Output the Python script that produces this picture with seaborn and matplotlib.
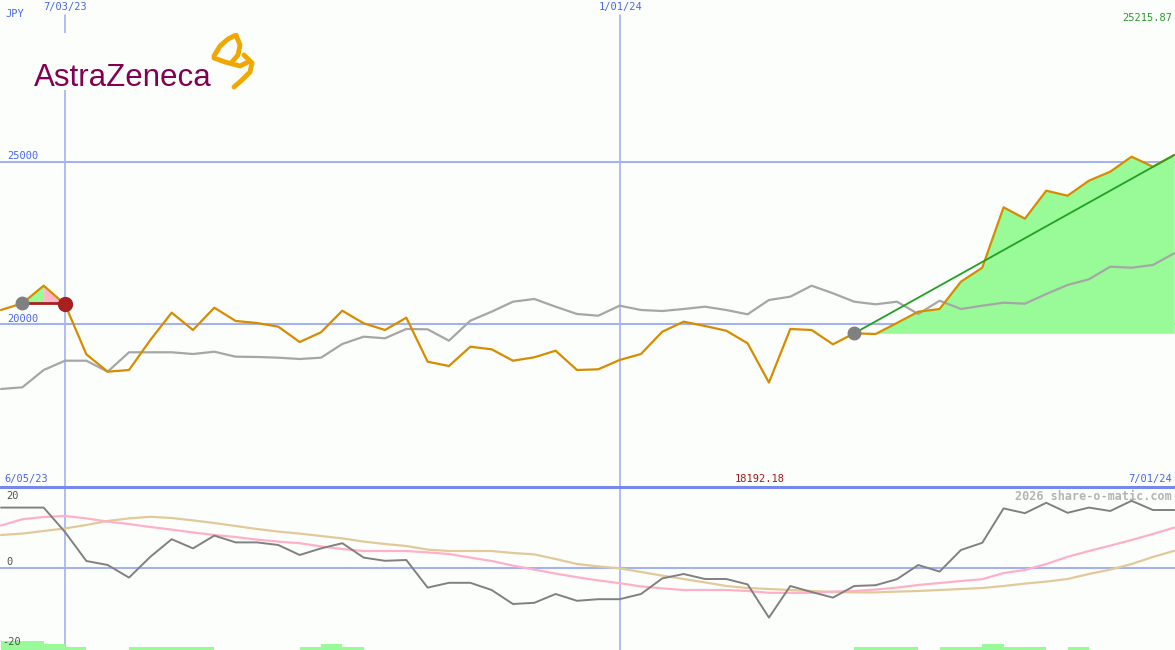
import numpy as np
import pandas as pd
import matplotlib.pyplot as plt
import seaborn as sns

# --- data (weekly) ---
dates = pd.date_range('2023-06-12', periods=56, freq='7D')

price = [20432, 20639, 21182, 20608, 19065, 18528, 18580, 19506, 20349, 19815,
         20503, 20093, 20031, 19917, 19444, 19744, 20410, 20022, 19815, 20194,
         18836, 18704, 19299, 19219, 18867, 18972, 19176, 18580, 18602, 18889,
         19074, 19762, 20071, 19938, 19793, 19404, 18192.18, 19846, 19815, 19373,
         19713, 19691, 20031, 20380, 20463, 21306, 21738, 23602, 23250, 24114,
         23960, 24423, 24701, 25164, 24855, 25215.87]

bench = [17994, 18046, 18580, 18867, 18867, 18528, 19127, 19127, 19127, 19074,
         19145, 18991, 18982, 18960, 18920, 18960, 19383, 19608, 19559, 19846,
         19836, 19485, 20102, 20380, 20688, 20772, 20534, 20309, 20256, 20565,
         20432, 20401, 20463, 20534, 20432, 20299, 20741, 20843, 21182, 20948,
         20688, 20608, 20688, 20309, 20719, 20463, 20565, 20657, 20627, 20926,
         21204, 21380, 21769, 21738, 21821, 22182]

momentum = [15.1, 15.1, 15.1, 9.0, 1.75, 0.75, -2.4, 2.8, 7.2, 4.9,
            8.1, 6.4, 6.4, 5.75, 3.25, 4.9, 6.2, 2.6, 1.8, 2.0,
            -4.9, -3.7, -3.7, -5.5, -9.0, -8.7, -6.5, -8.2, -7.8, -7.8,
            -6.5, -2.6, -1.5, -2.75, -2.75, -4.1, -12.4, -4.5, -6.0, -7.4,
            -4.5, -4.3, -2.8, 0.75, -0.9, 4.5, 6.3, 14.9, 13.7, 16.3,
            13.8, 15.1, 14.25, 16.8, 14.5, 14.5]

avg_fast = [10.6, 12.2, 12.75, 13.0, 12.4, 11.6, 11.0, 10.25, 9.6, 8.9,
            8.25, 7.75, 7.1, 6.6, 6.2, 5.4, 4.75, 4.25, 4.25, 4.25,
            3.9, 3.5, 2.6, 1.75, 0.6, -0.4, -1.4, -2.3, -3.1, -3.8,
            -4.6, -5.1, -5.5, -5.5, -5.5, -5.75, -6.2, -6.2, -6.2, -5.9,
            -5.75, -5.4, -4.9, -4.25, -3.75, -3.25, -2.8, -1.25, -0.5, 1.0,
            2.8, 4.25, 5.6, 7.0, 8.5, 10.1]

avg_slow = [8.25, 8.6, 9.25, 9.9, 10.75, 11.75, 12.4, 12.8, 12.5, 11.9,
            11.25, 10.5, 9.75, 9.1, 8.6, 8.0, 7.4, 6.6, 6.0, 5.5,
            4.6, 4.25, 4.25, 4.25, 3.75, 3.4, 2.25, 1.0, 0.4, -0.1,
            -1.0, -1.9, -2.75, -3.6, -4.5, -5.0, -5.25, -5.5, -5.75, -6.0,
            -6.1, -6.1, -5.9, -5.75, -5.5, -5.25, -5.0, -4.5, -3.9, -3.4,
            -2.75, -1.5, -0.4, 1.0, 2.75, 4.3]

signal = [3, 3, 2, 1, 0, 0, 1, 1, 1, 1, 0, 0, 0, 0, 1, 2, 1, 0, 0, 0,
          0, 0, 0, 0, 0, 0, 0, 0, 0, 0, 0, 0, 0, 0, 0, 0, 0, 0, 0, 0,
          1, 1, 1, 0, 1, 1, 2, 1, 1, 0, 1, 0, 0, 0, 0, 0]

entry1, exit1 = 1, 3      # first trade (gray dot -> red dot)
entry2 = 40               # open trade (gray dot -> last)
marker_dates = ['2023-07-03', '2024-01-01']

df = pd.DataFrame({'date': dates, 'price': price, 'bench': bench,
                   'momentum': momentum, 'fast': avg_fast, 'slow': avg_slow,
                   'signal': signal})

# --- style ---
sns.set_style('white')
plt.rcParams['font.family'] = ['DejaVu Sans Mono', 'DejaVu Sans']
bg = '#fcfefc'
grid_c = '#a4b2f2'
blue_txt = '#4a66e6'

fig = plt.figure(figsize=(11.75, 6.5), dpi=100, facecolor=bg)
split = 163 / 650
ax1 = fig.add_axes([0, split, 1, 1 - split], facecolor=bg)
ax2 = fig.add_axes([0, 0, 1, split], facecolor=bg)
xlim = (dates[0] - pd.Timedelta(hours=8), dates[-1] + pd.Timedelta(hours=6))

# --- top panel ---
ax1.axhline(25000, color=grid_c, lw=1.5, zorder=1)
ax1.axhline(20000, color=grid_c, lw=1.5, zorder=1)
for d in marker_dates:
    ax1.axvline(pd.Timestamp(d), ymin=0, ymax=(487 - 15) / 487, color=grid_c, lw=1.2, zorder=1)

p = np.array(price)
base1 = p[entry1]
ax1.fill_between(dates[entry1:entry1 + 2], p[entry1:entry1 + 2], base1, color='#98fb98', lw=0, zorder=2)
ax1.fill_between(dates[entry1 + 1:exit1 + 1], p[entry1 + 1:exit1 + 1], base1, color='#ffb6c8', lw=0, zorder=2)
base2 = p[entry2]
ax1.fill_between(dates[entry2:entry2 + 2], p[entry2:entry2 + 2], base2, color='#ffb6c8', lw=0, zorder=2)
ax1.fill_between(dates[entry2 + 1:], p[entry2 + 1:], base2, color='#98fb98', lw=0, zorder=2)

sns.lineplot(data=df, x='date', y='bench', color='#a6a6a6', lw=1.6, ax=ax1, zorder=3)
sns.lineplot(data=df, x='date', y='price', color='#d68c00', lw=1.6, ax=ax1, zorder=4)

ax1.plot([dates[entry1], dates[exit1]], [base1, base1], color='#a82020', lw=2, zorder=5)
ax1.plot([dates[entry2], dates[-1]], [base2, p[-1]], color='#22a022', lw=1.3, zorder=5)
ax1.plot(dates[entry1], base1, 'o', color='#808080', ms=9, zorder=6)
ax1.plot(dates[entry2], base2, 'o', color='#808080', ms=9, zorder=6)
ax1.plot(dates[exit1], p[exit1], 'o', color='#a82020', ms=10, zorder=6)

ax1.set_xlim(xlim)
ax1.set_ylim(14969, 30000)

# --- bottom panel ---
ax2.axhline(0, color=grid_c, lw=1.5, zorder=1)
for d in marker_dates:
    ax2.axvline(pd.Timestamp(d), color=grid_c, lw=1.2, zorder=1)
ax2.bar(df['date'], df['signal'] * 0.75, bottom=-20.5, width=7, align='edge',
        color='#98fb98', lw=0, zorder=2)
sns.lineplot(data=df, x='date', y='slow', color='#e2c99a', lw=1.6, ax=ax2, zorder=3)
sns.lineplot(data=df, x='date', y='fast', color='#ffb0c8', lw=1.6, ax=ax2, zorder=3)
sns.lineplot(data=df, x='date', y='momentum', color='#808080', lw=1.4, ax=ax2, zorder=4)
ax2.set_xlim(xlim)
ax2.set_ylim(-20.5, 20.25)

for ax in (ax1, ax2):
    ax.set_xticks([])
    ax.set_yticks([])
    ax.set_xlabel('')
    ax.set_ylabel('')
    for s in ax.spines.values():
        s.set_visible(False)
ax2.spines['top'].set_visible(True)
ax2.spines['top'].set_color('#7688ec')
ax2.spines['top'].set_linewidth(2.2)
ax2.spines['top'].set_zorder(10)


# --- labels ---
def label(x, y, s, ha='left', color=blue_txt, size=7.5, **kw):
    fig.text(x / 1175, 1 - y / 650, s, ha=ha, va='center', color=color, fontsize=size, **kw)


label(5, 14, 'JPY')
label(65, 7, '7/03/23', ha='center')
label(621, 7, '1/01/24', ha='center')
label(1172, 18, f'{price[-1]:.2f}', ha='right', color='#2a9a2a')
label(7, 156, '25000')
label(7, 319, '20000')
label(4, 479, '6/05/23')
label(760, 479, f'{min(price):.2f}', ha='center', color='#a01818')
label(1172, 479, '7/01/24', ha='right')
label(6, 496, '20', color='#505050')
label(6, 562, '0', color='#505050')
label(2, 642, '-20', color='#505050')
label(1172, 496, '2026 share-o-matic.com', ha='right', color='#b4b4b4', size=8.5, fontweight='bold')

# --- logo ---
logo = fig.add_axes([28 / 1175, 1 - 90 / 650, 232 / 1175, 57 / 650], facecolor=bg)
logo.set_xlim(28, 260)
logo.set_ylim(90, 33)
logo.axis('off')
logo.add_patch(plt.Rectangle((28, 33), 232, 57, color=bg, zorder=0))
logo.text(34, 86, 'AstraZeneca', color='#830051', fontsize=22.5, family='Liberation Sans',
          va='baseline', ha='left')
gold = '#f0a800'
# stylised swirl
logo.plot([214, 220, 228, 236, 240, 238, 232],
          [56, 46, 39, 35, 45, 55, 62], color=gold, lw=3.5, solid_capstyle='round')
logo.plot([214, 225, 240, 248],
          [58, 62, 66, 62], color=gold, lw=3.5, solid_capstyle='round')
logo.plot([244, 252, 250, 242, 234],
          [55, 63, 72, 80, 87], color=gold, lw=3.5, solid_capstyle='round')

plt.savefig('out.png', dpi=100, facecolor=bg)
